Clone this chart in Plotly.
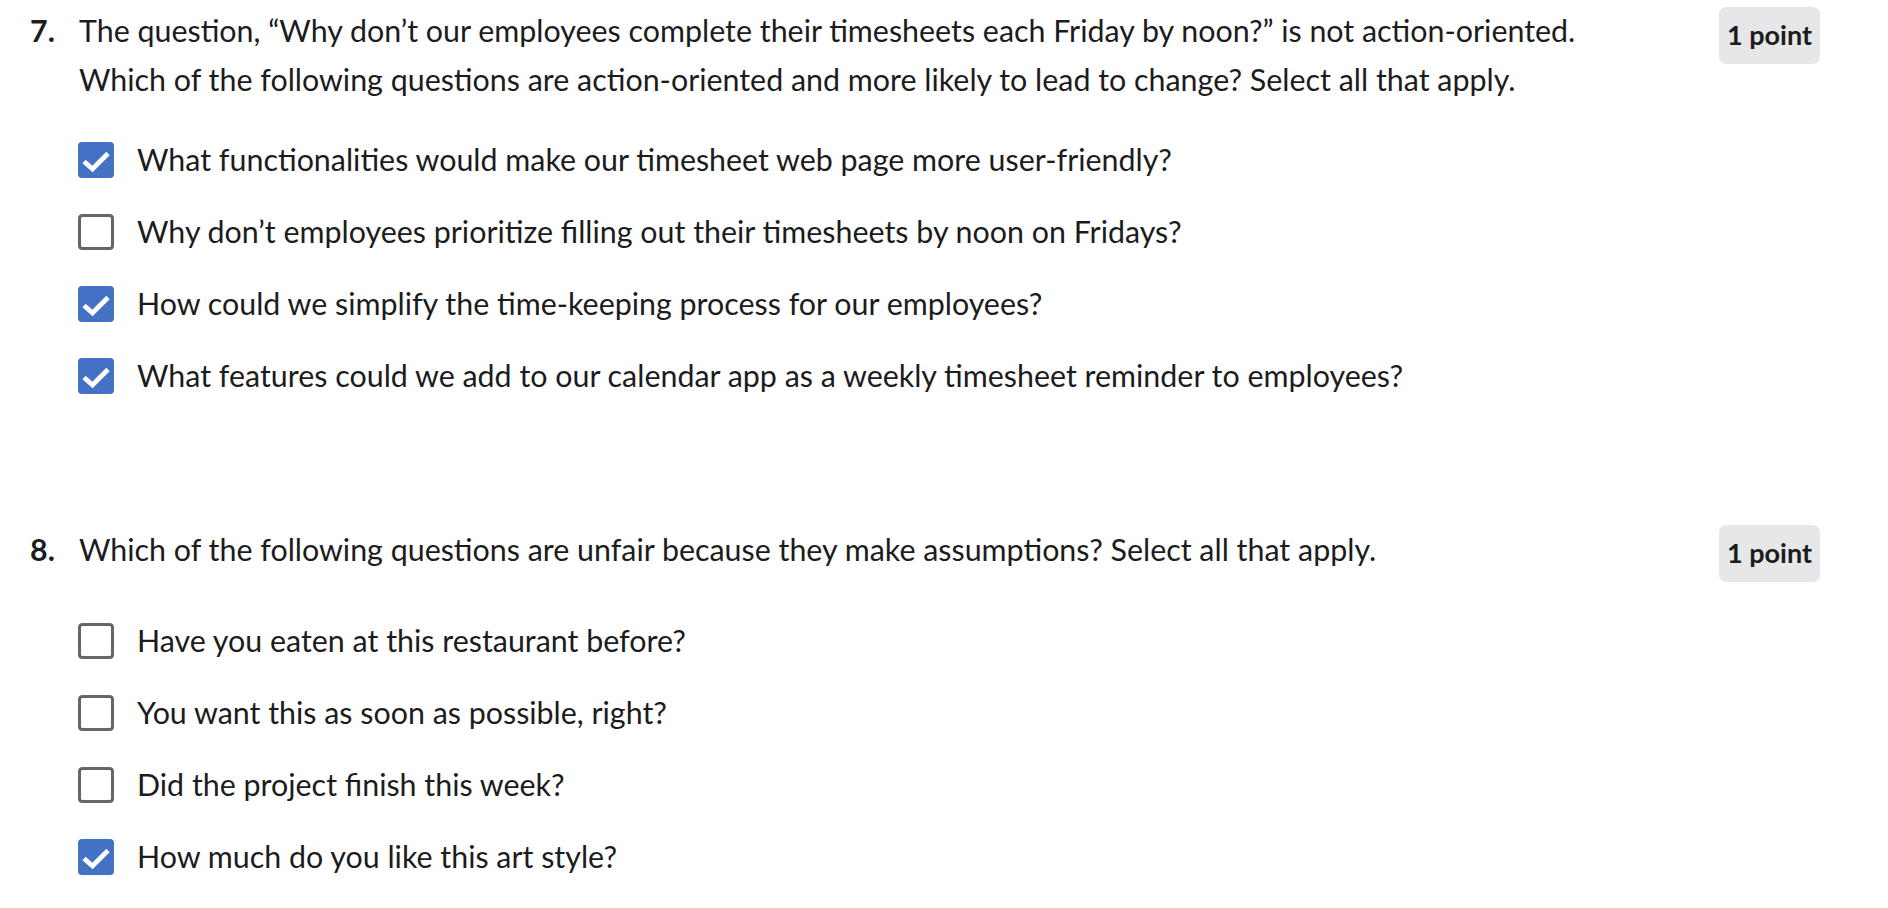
import plotly.graph_objects as go

# ---------------- content ----------------
question_numbers = ["7.", "8."]
q7_lines = [
    "The question, \u201cWhy don\u2019t our employees complete their timesheets each Friday by noon?\u201d is not action-oriented.",
    "Which of the following questions are action-oriented and more likely to lead to change? Select all that apply.",
]
q8_lines = [
    "Which of the following questions are unfair because they make assumptions? Select all that apply.",
]
q7_options = [
    "What functionalities would make our timesheet web page more user-friendly?",
    "Why don\u2019t employees prioritize filling out their timesheets by noon on Fridays?",
    "How could we simplify the time-keeping process for our employees?",
    "What features could we add to our calendar app as a weekly timesheet reminder to employees?",
]
q7_checked = [True, False, True, True]
q8_options = [
    "Have you eaten at this restaurant before?",
    "You want this as soon as possible, right?",
    "Did the project finish this week?",
    "How much do you like this art style?",
]
q8_checked = [False, False, False, True]
point_labels = ["1 point", "1 point"]

# ---------------- layout constants ----------------
W, H = 1888, 908
FONT = "Lato"
TXT = "#1c1c1c"
BLUE = "#4372c4"
GREY = "#666666"
FS = 30.4

def rrect(x0, y0, x1, y1, r):
    return (f"M{x0+r},{y0} L{x1-r},{y0} Q{x1},{y0} {x1},{y0+r} "
            f"L{x1},{y1-r} Q{x1},{y1} {x1-r},{y1} L{x0+r},{y1} "
            f"Q{x0},{y1} {x0},{y1-r} L{x0},{y0+r} Q{x0},{y0} {x0+r},{y0} Z")

fig = go.Figure()
shapes = []
annotations = []
check_x, check_y = [], []

def add_text(x, y, text, size=FS, bold=False, anchor="left"):
    annotations.append(dict(
        x=x, y=y, xref="x", yref="y", text=text, showarrow=False,
        xanchor=anchor, yanchor="middle",
        font=dict(family=FONT, size=size, color=TXT, weight="bold" if bold else "normal"),
    ))

def add_options(options, checked, top0):
    for i, (opt, chk) in enumerate(zip(options, checked)):
        t = top0 + i * 72
        x0, x1 = 78, 114
        if chk:
            shapes.append(dict(type="path", xref="x", yref="y", layer="below",
                               path=rrect(x0, t, x1, t + 36, 4),
                               fillcolor=BLUE, line=dict(width=0)))
            check_x.extend([x0 + 6, x0 + 14.5, x0 + 30, None])
            check_y.extend([t + 19.5, t + 27, t + 11.5, None])
        else:
            shapes.append(dict(type="path", xref="x", yref="y", layer="below",
                               path=rrect(x0 + 1.5, t + 1.5, x1 - 1.5, t + 34.5, 3),
                               fillcolor="white", line=dict(width=3, color=GREY)))
        add_text(135, t + 17, opt)

def add_badge(y0, label):
    shapes.append(dict(type="path", xref="x", yref="y", layer="below",
                       path=rrect(1719, y0, 1820, y0 + 57, 8),
                       fillcolor="#e6e7e9", line=dict(width=0)))
    add_text(1769.5, y0 + 27, label, size=27, bold=True, anchor="center")

# question 7
add_text(28, 30, question_numbers[0], bold=True)
add_text(77, 30, q7_lines[0])
add_text(77, 79, q7_lines[1])
add_badge(7, point_labels[0])
add_options(q7_options, q7_checked, 142)

# question 8
add_text(28, 549, question_numbers[1], bold=True)
add_text(77, 549, q8_lines[0])
add_badge(525, point_labels[1])
add_options(q8_options, q8_checked, 623)

fig.add_trace(go.Scatter(x=check_x, y=check_y, mode="lines",
                         line=dict(color="white", width=4.8),
                         hoverinfo="skip", showlegend=False))

fig.update_layout(
    width=W, height=H, margin=dict(l=0, r=0, t=0, b=0),
    paper_bgcolor="white", plot_bgcolor="white",
    xaxis=dict(range=[0, W], visible=False, fixedrange=True),
    yaxis=dict(range=[H, 0], visible=False, fixedrange=True),
    shapes=shapes, annotations=annotations, showlegend=False,
)
fig.write_html("out.html", config={"displayModeBar": False},
               post_script="document.body.style.margin='0';document.body.style.overflow='hidden';")
